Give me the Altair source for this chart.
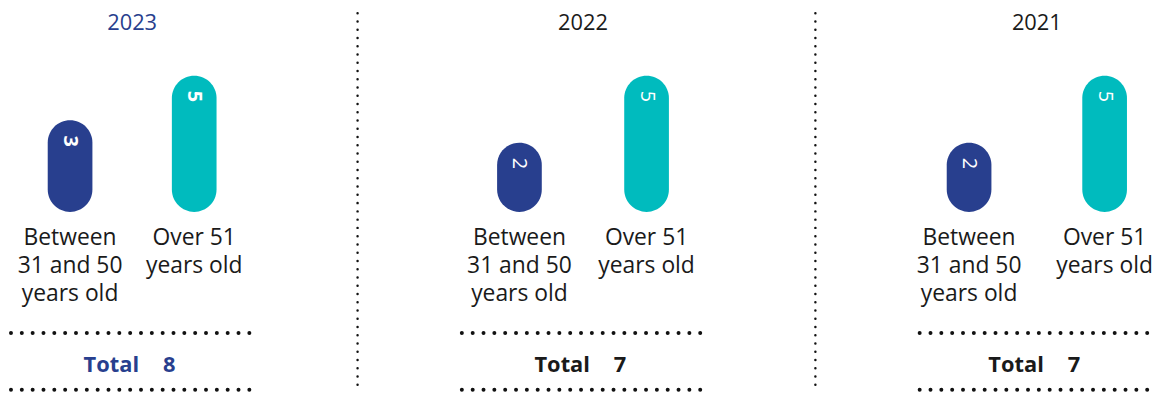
import altair as alt
import pandas as pd

# ---- data ----
years = ["2023", "2022", "2021"]
groups = ["Between 31 and 50 years old", "Over 51 years old"]
group_labels = ["Between\n31 and 50\nyears old", "Over 51\nyears old"]
values_2023 = [3, 5]
values_2022 = [2, 5]
values_2021 = [2, 5]
series = [values_2023, values_2022, values_2021]
highlight = [True, False, False]

# ---- style ----
BLUE = "#283f8e"
TEAL = "#00bbbe"
INK = "#1a1a1a"
FONT = "Open Sans"
H = 385
widths = [250, 250, 242]
inner_pad = [0.0, 0.047, 0.227]

yscale = alt.Scale(domain=[-1.1, 7.97], range=[204, 0])


def panel(year, values, W, pad, hl):
    df = pd.DataFrame({"group": groups, "label": group_labels, "value": values})
    x = alt.X("group:N", sort=groups,
              scale=alt.Scale(paddingInner=pad, paddingOuter=0), axis=None)
    base = alt.Chart(df)
    bars = base.mark_bar(size=45, cornerRadius=22.5).encode(
        x=x,
        y=alt.Y("value:Q", scale=yscale, axis=None),
        y2=alt.datum(-1.1),
        color=alt.Color("group:N", scale=alt.Scale(domain=groups, range=[BLUE, TEAL]), legend=None),
    )
    vals = base.mark_text(angle=90, align="center", baseline="middle", dx=21,
                          fontSize=20, fontWeight="bold" if hl else "normal",
                          color="white", font=FONT).encode(
        x=x, y=alt.Y("value:Q", scale=yscale), text="value:Q")
    labs = base.mark_text(align="center", baseline="top", lineBreak="\n",
                          lineHeight=28.5, fontSize=23, color=INK, font=FONT).encode(
        x=x, y=alt.value(219), text="label:N")
    tdf = pd.DataFrame({"year": [year], "total": [sum(values)]})
    tbase = alt.Chart(tdf)
    title = tbase.mark_text(fontSize=22, color=BLUE if hl else INK, font=FONT,
                            baseline="middle", align="center").encode(
        x=alt.value(W / 2), y=alt.value(14), text="year:N")
    tot_word = tbase.mark_text(fontSize=22, fontWeight="bold", color=BLUE if hl else INK,
                               font=FONT, align="right", baseline="middle", dx=7).encode(
        x=alt.value(W / 2), y=alt.value(358), text=alt.value("Total"))
    tot_num = tbase.mark_text(fontSize=22, fontWeight="bold", color=BLUE if hl else INK,
                              font=FONT, align="left", baseline="middle", dx=31).encode(
        x=alt.value(W / 2), y=alt.value(358), text="total:Q")
    dots = dict(strokeDash=[0.01, 10.9], strokeCap="round", strokeWidth=4, color="#111111")
    line_top = tbase.mark_rule(**dots).encode(
        x=alt.value(3), x2=alt.value(W), y=alt.value(326))
    line_bot = tbase.mark_rule(**dots).encode(
        x=alt.value(3), x2=alt.value(W), y=alt.value(383))
    return alt.layer(bars, vals, labs, title, tot_word, tot_num, line_top, line_bot).properties(
        width=W, height=H)


def separator(w, xpos):
    return alt.Chart(pd.DataFrame({"s": [0]})).mark_rule(
        strokeDash=[0.01, 8.3], strokeCap="round", strokeWidth=2.5, color="#111111"
    ).encode(x=alt.value(xpos), y=alt.value(4), y2=alt.value(384)).properties(width=w, height=H)


p = [panel(years[i], series[i], widths[i], inner_pad[i], highlight[i]) for i in range(3)]
chart = alt.hconcat(p[0], separator(5, 1), p[1], separator(12, 9), p[2], spacing=98).properties(
    padding=0
).configure(font=FONT).configure_view(stroke=None, strokeWidth=0)

chart.save("out.html", embed_options={"renderer": "svg", "actions": False})
